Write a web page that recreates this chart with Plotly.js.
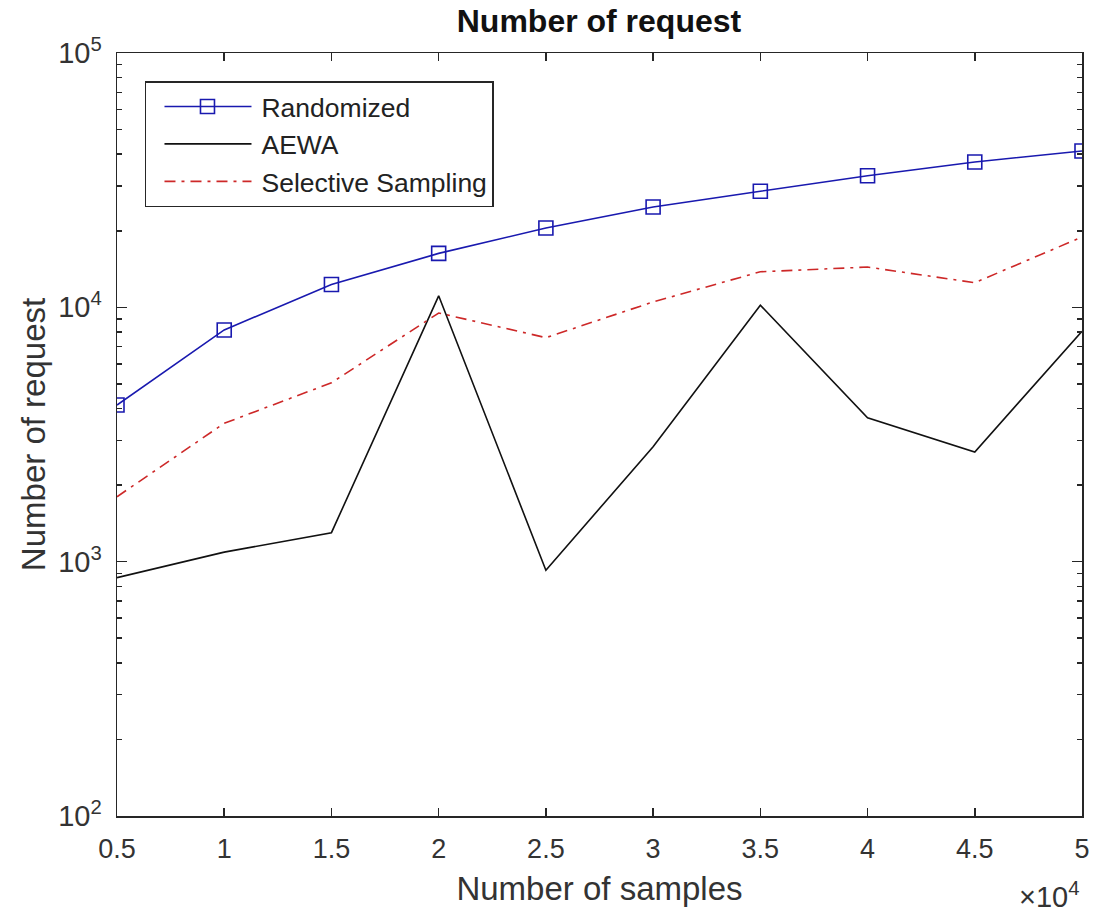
<!DOCTYPE html>
<html>
<head>
<meta charset="utf-8">
<script src="https://cdn.plot.ly/plotly-3.0.1.min.js"></script>
<style>html,body{margin:0;padding:0;background:#fff;}#chart{width:1093px;height:914px;}</style>
</head>
<body>
<div id="chart"></div>
<script>
const samples = [5000, 10000, 15000, 20000, 25000, 30000, 35000, 40000, 45000, 50000];
const randomized = [4130, 8150, 12300, 16300, 20500, 24800, 28600, 32900, 37300, 41200];
const aewa = [865, 1090, 1300, 11100, 925, 2830, 10200, 3680, 2700, 8050];
const selective = [1800, 3500, 5050, 9500, 7600, 10500, 13800, 14400, 12500, 18900];
const xTickVals = [5000, 10000, 15000, 20000, 25000, 30000, 35000, 40000, 45000, 50000];
const xTickText = ['0.5', '1', '1.5', '2', '2.5', '3', '3.5', '4', '4.5', '5'];
const yTickVals = [100, 1000, 10000, 100000];
const yTickText = ['10<sup>2</sup>', '10<sup>3</sup>', '10<sup>4</sup>', '10<sup>5</sup>'];
const yMinorVals = [200,300,400,500,600,700,800,900,2000,3000,4000,5000,6000,7000,8000,9000,20000,30000,40000,50000,60000,70000,80000,90000];

const font = 'Liberation Sans, Arial, sans-serif';
const axisColor = '#262626';

const traces = [
  {x: samples, y: randomized, name: 'Randomized', mode: 'lines+markers', type: 'scatter',
   line: {color: 'rgb(25,25,175)', width: 1.6},
   marker: {symbol: 'square-open', size: 14, color: 'rgb(25,25,175)', line: {width: 1.6}}},
  {x: samples, y: aewa, name: 'AEWA', mode: 'lines', type: 'scatter',
   line: {color: '#111', width: 1.6}},
  {x: samples, y: selective, name: 'Selective Sampling', mode: 'lines', type: 'scatter',
   line: {color: 'rgb(205,40,40)', width: 1.6, dash: '11px,6px,3px,6px'}}
];

const layout = {
  width: 1093, height: 914,
  paper_bgcolor: '#fff', plot_bgcolor: '#fff',
  margin: {l: 117, r: 11, t: 53, b: 98},
  font: {family: font, color: axisColor, size: 26},
  title: {text: '<b>Number of request</b>', font: {family: font, size: 32, color: '#111'},
          x: 0.548, xanchor: 'center', y: 0.99, yanchor: 'top'},
  showlegend: true,
  legend: {x: 0.029, y: 0.963, xanchor: 'left', yanchor: 'top',
           bgcolor: '#fff', bordercolor: axisColor, borderwidth: 1.5,
           itemwidth: 105,
           font: {family: font, size: 26.5, color: '#222'}, tracegroupgap: 0},
  xaxis: {
    type: 'linear', range: [5000, 50000], tickmode: 'array',
    tickvals: xTickVals, ticktext: xTickText,
    ticks: 'inside', ticklen: 8, tickcolor: axisColor, tickwidth: 1.5,
    showline: true, linecolor: axisColor, linewidth: 1.5, mirror: 'ticks',
    showgrid: false, zeroline: false, ticklabelstandoff: 8,
    tickfont: {family: font, size: 27, color: '#333'},
    title: {text: 'Number of samples', font: {family: font, size: 33, color: '#333'}, standoff: 14}
  },
  yaxis: {
    type: 'log', range: [2, 5], tickmode: 'array',
    tickvals: yTickVals, ticktext: yTickText,
    ticks: 'inside', ticklen: 10, tickcolor: axisColor, tickwidth: 1.5,
    minor: {ticks: 'inside', ticklen: 5, tickcolor: axisColor, tickwidth: 1.5, showgrid: false,
            tickvals: yMinorVals},
    showline: true, linecolor: axisColor, linewidth: 1.5, mirror: 'ticks',
    showgrid: false, zeroline: false, ticklabelstandoff: 8,
    tickfont: {family: font, size: 29, color: '#333'},
    title: {text: 'Number of request', font: {family: font, size: 33, color: '#333'}, standoff: 2}
  },
  annotations: [
    {xref: 'paper', yref: 'paper', x: 0.999, y: -0.077, xanchor: 'right', yanchor: 'top',
     text: '×10<sup>4</sup>', showarrow: false, font: {family: font, size: 29, color: '#333'}}
  ]
};

Plotly.newPlot('chart', traces, layout, {displayModeBar: false, staticPlot: true}).then(function (gd) {
  // lengthen the legend line samples to match the reference style
  gd.querySelectorAll('.legend .legendlines path').forEach(function (p) {
    p.setAttribute('d', 'M18,0h87');
  });
  gd.querySelectorAll('.legend .legendpoints path').forEach(function (p) {
    p.setAttribute('transform', 'translate(61,0)');
  });
});
</script>
</body>
</html>
